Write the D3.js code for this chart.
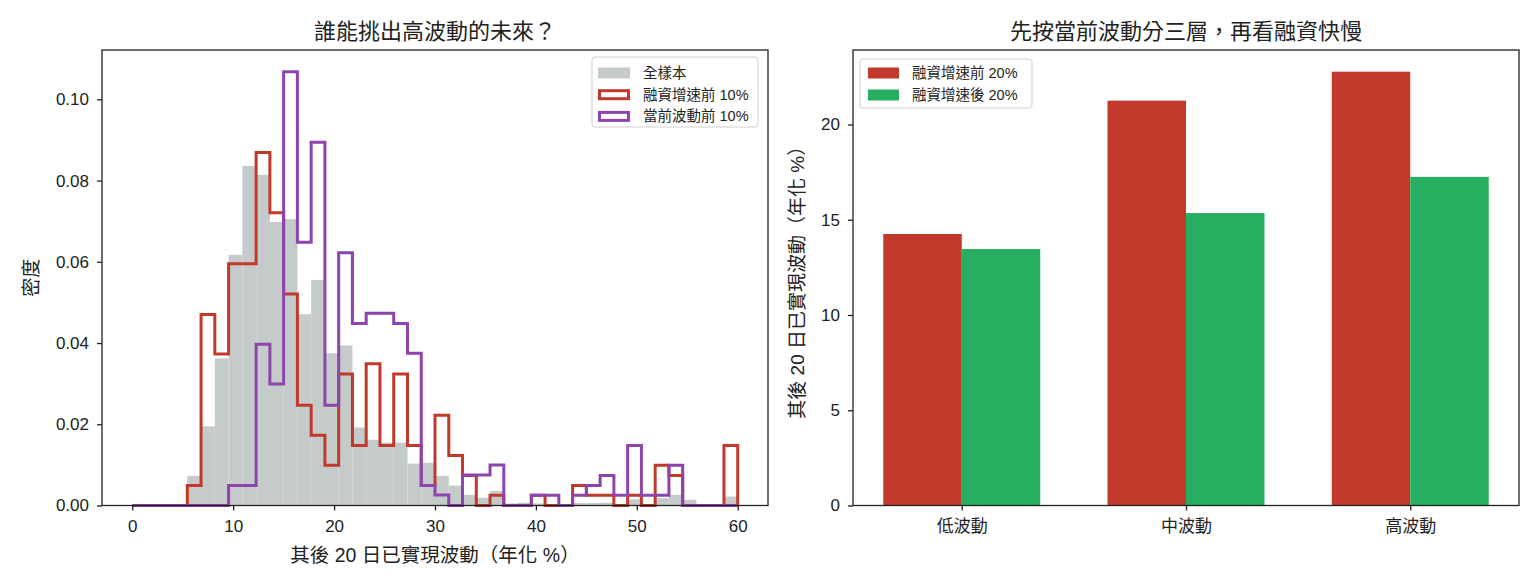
<!DOCTYPE html>
<html>
<head>
<meta charset="utf-8">
<script src="https://cdn.jsdelivr.net/npm/d3@7"></script>
<style>
    body { margin: 0; background: #fff; }
    svg text { font-family: "Liberation Sans", "Noto Sans CJK TC", sans-serif; fill: #222; }
    .axis path, .axis line { stroke: #222; }
</style>
</head>
<body>
<script>
(function(){

//histogram bins: 44 equal bins between 0 and 60
var binStart = 0, binEnd = 60, binCount = 44;

//density per bin
var allSample = [0, 0, 0, 0, 0.0073, 0.0195, 0.0362, 0.0617, 0.0836, 0.0814, 0.0698, 0.0705,
    0.0471, 0.0555, 0.0375, 0.0394, 0.0192, 0.0162, 0.0155, 0.0155, 0.0103, 0.0105,
    0.0073, 0.0049, 0.0026, 0.0019, 0.0036, 0.0005, 0.0007, 0.0005, 0.0003, 0.0003,
    0.0006, 0.0006, 0.0007, 0.0003, 0.0015, 0.0004, 0.0018, 0.0026, 0.0014, 0.0003,
    0.0003, 0.0022];
var marginFastTop = [0, 0, 0, 0, 0.0049, 0.047, 0.0373, 0.0595, 0.0595, 0.0869, 0.0721, 0.0521,
    0.0247, 0.0173, 0.0099, 0.0324, 0.0148, 0.0349, 0.0148, 0.0324, 0.0148, 0.0049,
    0.0222, 0.0123, 0.0074, 0, 0.0025, 0, 0, 0.0025, 0, 0,
    0.0049, 0.0025, 0.0025, 0, 0.0025, 0, 0.0099, 0.0074, 0, 0,
    0, 0.0148];
var volTop = [0, 0, 0, 0, 0, 0, 0, 0.0049, 0.0049, 0.0397, 0.0299, 0.1068,
    0.0648, 0.0894, 0.0247, 0.0622, 0.0448, 0.0473, 0.0473, 0.0448, 0.0375, 0.0049,
    0.0026, 0, 0.0075, 0.0075, 0.01, 0, 0, 0.0025, 0.0025, 0,
    0.0025, 0.0049, 0.0074, 0.0025, 0.0148, 0.0025, 0.0025, 0.0099, 0, 0,
    0, 0];

var histSeries = ["全樣本", "融資增速前 10%", "當前波動前 10%"];
var xTicksLeft = [0, 10, 20, 30, 40, 50, 60];
var yTicksLeft = [0, 0.02, 0.04, 0.06, 0.08, 0.10];

//bar chart values
var tiers = ["低波動", "中波動", "高波動"];
var beforeFast = [14.25, 21.25, 22.77];
var afterFast = [13.46, 15.35, 17.25];
var barSeries = ["融資增速前 20%", "融資增速後 20%"];
var yTicksRight = [0, 5, 10, 15, 20];

var colors = {gray: "#c5cbca", red: "#c0392b", purple: "#8e44ad", green: "#27ae60"};

window.onload = setPage();

function setPage(){
    var svg = d3.select("body")
        .append("svg")
        .attr("width", 1540)
        .attr("height", 588);

    setHistogram(svg);
    setBarChart(svg);
};

function setHistogram(svg){
    //axes frame
    var left = 102, right = 768, top = 50, bottom = 505.5;

    var x = d3.scaleLinear()
        .domain([binStart - 3, binEnd + 3])
        .range([left, right]);

    var yMax = d3.max(allSample.concat(marginFastTop, volTop)) * 1.05;
    var y = d3.scaleLinear()
        .domain([0, yMax])
        .range([bottom, top]);

    var binWidth = (binEnd - binStart) / binCount;
    var edges = d3.range(binCount + 1).map(function(i){ return binStart + i * binWidth; });

    //gray filled bars
    svg.append("g")
        .selectAll("rect")
        .data(allSample)
        .enter()
        .append("rect")
        .attr("x", function(d, i){ return x(edges[i]); })
        .attr("width", function(d, i){ return x(edges[i + 1]) - x(edges[i]); })
        .attr("y", function(d){ return y(d); })
        .attr("height", function(d){ return bottom - y(d); })
        .style("fill", colors.gray);

    //step outlines
    var line = d3.line()
        .x(function(d){ return x(d[0]); })
        .y(function(d){ return y(d[1]); });

    [[marginFastTop, colors.red], [volTop, colors.purple]].forEach(function(s){
        var pts = [[edges[0], 0]];
        s[0].forEach(function(v, i){
            pts.push([edges[i], v]);
            pts.push([edges[i + 1], v]);
        });
        pts.push([edges[binCount], 0]);
        svg.append("path")
            .datum(pts)
            .attr("d", line)
            .style("fill", "none")
            .style("stroke", s[1])
            .style("stroke-width", 3)
            .style("stroke-linejoin", "miter");
    });

    drawAxes(svg, x, y, left, right, top, bottom,
        d3.axisBottom(x).tickValues(xTicksLeft).tickFormat(d3.format("d")),
        d3.axisLeft(y).tickValues(yTicksLeft).tickFormat(d3.format(".2f")));

    //title and axis labels
    svg.append("text")
        .attr("x", (left + right) / 2)
        .attr("y", 39)
        .attr("text-anchor", "middle")
        .style("font-size", "22px")
        .text("誰能挑出高波動的未來？");

    svg.append("text")
        .attr("x", (left + right) / 2)
        .attr("y", 562)
        .attr("text-anchor", "middle")
        .style("font-size", "19.5px")
        .text("其後 20 日已實現波動（年化 %）");

    svg.append("text")
        .attr("transform", "translate(38," + (top + bottom) / 2 + ") rotate(-90)")
        .attr("text-anchor", "middle")
        .style("font-size", "19px")
        .text("密度");

    //legend
    var legend = svg.append("g")
        .attr("transform", "translate(592,57)");
    legend.append("rect")
        .attr("width", 166)
        .attr("height", 70)
        .attr("rx", 3)
        .style("fill", "#fff")
        .style("fill-opacity", 0.8)
        .style("stroke", "#d0d0d0");

    histSeries.forEach(function(name, i){
        var row = legend.append("g")
            .attr("transform", "translate(5," + (16 + i * 21.7) + ")");
        if (i == 0){
            row.append("rect")
                .attr("x", 1).attr("y", -5.5)
                .attr("width", 32).attr("height", 11)
                .style("fill", colors.gray);
        } else {
            row.append("rect")
                .attr("x", 2.5).attr("y", -4)
                .attr("width", 29).attr("height", 8)
                .style("fill", "none")
                .style("stroke", i == 1 ? colors.red : colors.purple)
                .style("stroke-width", 3);
        };
        row.append("text")
            .attr("x", 46)
            .attr("y", 5)
            .style("font-size", "14.5px")
            .text(name);
    });
};

function setBarChart(svg){
    var left = 853, right = 1519, top = 50, bottom = 505.5;
    var barWidth = 0.35;

    var x = d3.scaleLinear()
        .domain([-barWidth - 0.135, tiers.length - 1 + barWidth + 0.135])
        .range([left, right]);

    var yMax = d3.max(beforeFast.concat(afterFast)) * 1.05;
    var y = d3.scaleLinear()
        .domain([0, yMax])
        .range([bottom, top]);

    //red bars sit left of the tick, green bars right of it
    [[beforeFast, -barWidth, colors.red], [afterFast, 0, colors.green]].forEach(function(s){
        svg.append("g")
            .selectAll("rect")
            .data(s[0])
            .enter()
            .append("rect")
            .attr("x", function(d, i){ return x(i + s[1]); })
            .attr("width", x(barWidth) - x(0))
            .attr("y", function(d){ return y(d); })
            .attr("height", function(d){ return bottom - y(d); })
            .style("fill", s[2]);
    });

    drawAxes(svg, x, y, left, right, top, bottom,
        d3.axisBottom(x).tickValues(d3.range(tiers.length)).tickFormat(function(d){ return tiers[d]; }),
        d3.axisLeft(y).tickValues(yTicksRight).tickFormat(d3.format("d")));

    svg.append("text")
        .attr("x", (left + right) / 2)
        .attr("y", 39)
        .attr("text-anchor", "middle")
        .style("font-size", "22px")
        .text("先按當前波動分三層，再看融資快慢");

    svg.append("text")
        .attr("transform", "translate(804," + (top + bottom) / 2 + ") rotate(-90)")
        .attr("text-anchor", "middle")
        .style("font-size", "19px")
        .text("其後 20 日已實現波動（年化 %）");

    //legend
    var legend = svg.append("g")
        .attr("transform", "translate(860,59)");
    legend.append("rect")
        .attr("width", 172)
        .attr("height", 49)
        .attr("rx", 3)
        .style("fill", "#fff")
        .style("fill-opacity", 0.8)
        .style("stroke", "#d0d0d0");

    barSeries.forEach(function(name, i){
        var row = legend.append("g")
            .attr("transform", "translate(7," + (14 + i * 22) + ")");
        row.append("rect")
            .attr("x", 1).attr("y", -5.5)
            .attr("width", 31).attr("height", 11)
            .style("fill", i == 0 ? colors.red : colors.green);
        row.append("text")
            .attr("x", 45)
            .attr("y", 5)
            .style("font-size", "14.5px")
            .text(name);
    });
};

function drawAxes(svg, x, y, left, right, top, bottom, xAxis, yAxis){
    xAxis.tickSizeOuter(0).tickSize(5).tickPadding(9);
    yAxis.tickSizeOuter(0).tickSize(5).tickPadding(8);

    var gx = svg.append("g")
        .attr("class", "axis")
        .attr("transform", "translate(0," + bottom + ")")
        .call(xAxis);
    gx.select(".domain").remove();
    gx.selectAll("text").style("font-size", "17px");
    gx.selectAll("line").style("stroke-width", 1.3);

    var gy = svg.append("g")
        .attr("class", "axis")
        .attr("transform", "translate(" + left + ",0)")
        .call(yAxis);
    gy.select(".domain").remove();
    gy.selectAll("text").style("font-size", "17px");
    gy.selectAll("line").style("stroke-width", 1.3);

    //frame on all four sides
    svg.append("rect")
        .attr("x", left)
        .attr("y", top)
        .attr("width", right - left)
        .attr("height", bottom - top)
        .style("fill", "none")
        .style("stroke", "#222")
        .style("stroke-width", 1.3);
};

})();
</script>
</body>
</html>
